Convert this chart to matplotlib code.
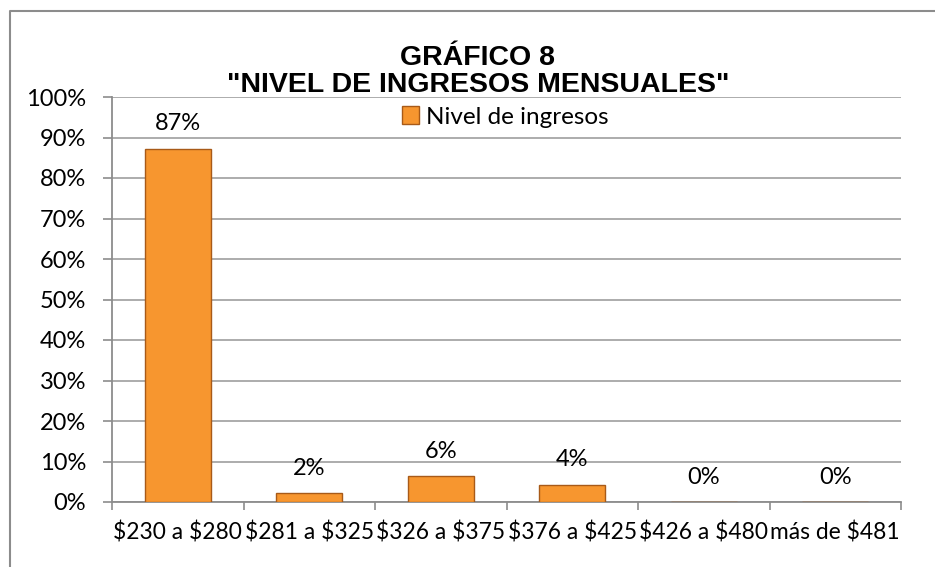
import matplotlib
matplotlib.use("Agg")
import matplotlib.pyplot as plt
from matplotlib.lines import Line2D
from matplotlib.ticker import PercentFormatter

plt.rcParams["text.parse_math"] = False

categories = ["$230 a $280", "$281 a $325", "$326 a $375", "$376 a $425", "$426 a $480", "más de $481"]
values = [0.872, 0.021, 0.063, 0.042, 0.0, 0.0]
y_ticks = [0, 0.1, 0.2, 0.3, 0.4, 0.5, 0.6, 0.7, 0.8, 0.9, 1.0]
series_name = "Nivel de ingresos"
title_lines = ["GRÁFICO 8", "\"NIVEL DE INGRESOS MENSUALES\""]

W, H = 935, 567
fig = plt.figure(figsize=(W / 100, H / 100), dpi=100)
fig.patch.set_facecolor("white")

font = "Lato"
fs = 17
grey = "#8c8c8c"

ax = fig.add_axes([112 / W, 1 - 502 / H, (901 - 112) / W, (502 - 97) / H])
x = list(range(len(categories)))
bars = ax.bar(x, values, width=0.5, color="#F7962F", edgecolor="#A85A18", linewidth=1.0,
              label=series_name, zorder=3)

ax.set_xlim(-0.5, len(categories) - 0.5)
ax.set_ylim(0, 1.0)
ax.set_yticks(y_ticks)
ax.yaxis.set_major_formatter(PercentFormatter(1.0, decimals=0))
ax.set_xticks(x)
ax.set_xticklabels(categories, fontfamily=font, fontsize=16.4)
ax.set_xticks([i - 0.5 for i in range(len(categories) + 1)], minor=True)
ax.tick_params(axis="x", which="major", length=0, pad=14)
ax.tick_params(axis="x", which="minor", length=6, color=grey, width=1.2)
ax.tick_params(axis="y", length=6.5, color=grey, width=1.2, pad=12, labelsize=fs)
for lab in ax.get_yticklabels():
    lab.set_fontfamily(font)

ax.grid(axis="y", color="#a6a6a6", linewidth=1.3, zorder=0)
for s in ["top", "right"]:
    ax.spines[s].set_visible(False)
for s in ["left", "bottom"]:
    ax.spines[s].set_color(grey)
    ax.spines[s].set_linewidth(1.3)

for xi, v in zip(x, values):
    ax.annotate(f"{round(v * 100):.0f}%", (xi, v), xytext=(0, 18), textcoords="offset points",
                ha="center", va="center", fontfamily=font, fontsize=fs, color="black")

leg = ax.legend(loc="center", bbox_to_anchor=(505 / W, 1 - 117 / H), bbox_transform=fig.transFigure,
                frameon=False, prop={"family": font, "size": 17.5}, handlelength=0.7, handleheight=0.7,
                handletextpad=0.3, borderpad=0)

fig.text(478 / W, 1 - 58 / H, title_lines[0], ha="center", va="center",
         fontfamily="Liberation Sans", fontweight="bold", fontsize=20.5)
fig.text(478 / W, 1 - 85 / H, title_lines[1], ha="center", va="center",
         fontfamily="Liberation Sans", fontweight="bold", fontsize=20.5)

fig.add_artist(Line2D([10 / W, 10 / W, 1.0], [0.0, 1 - 11 / H, 1 - 11 / H],
                      transform=fig.transFigure, color=grey, linewidth=1.5))

fig.savefig("out.png", dpi=100)
